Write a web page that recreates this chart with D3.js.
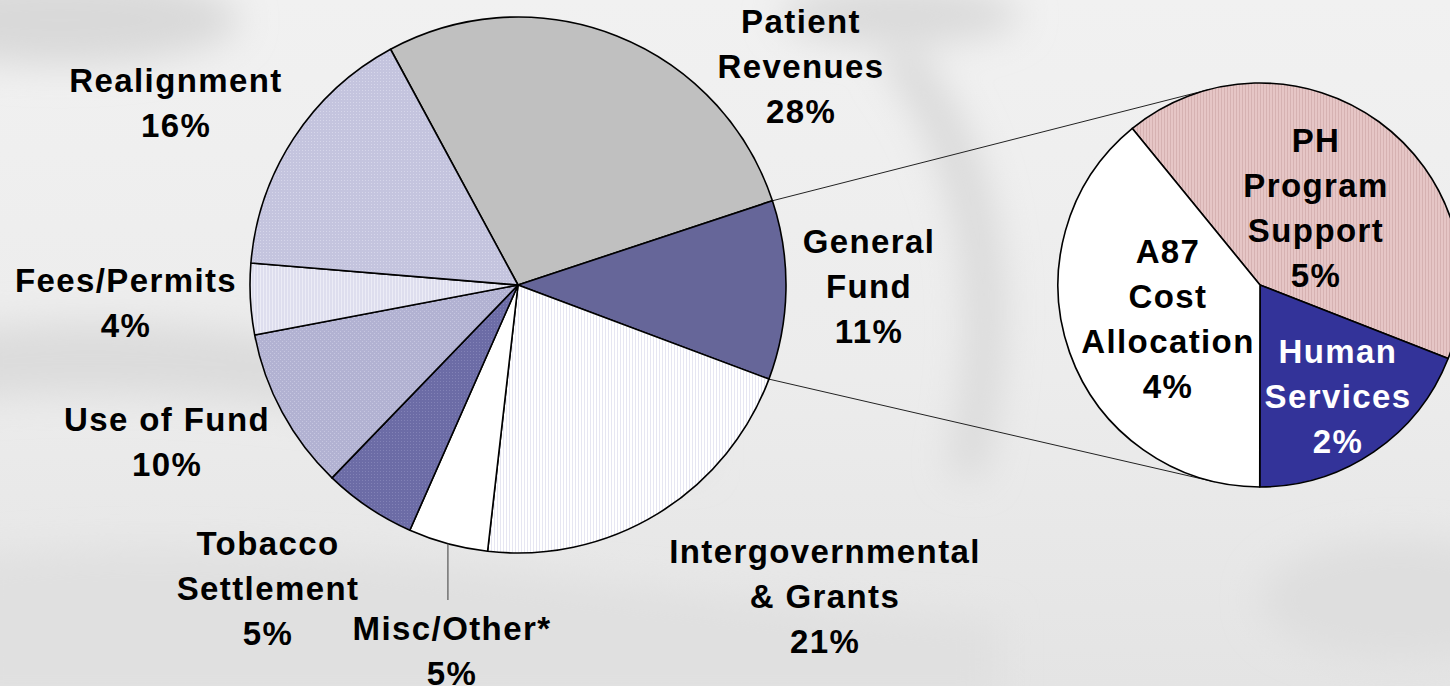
<!DOCTYPE html>
<html>
<head>
<meta charset="utf-8">
<script src="https://cdn.jsdelivr.net/npm/d3@7"></script>
<style>
  html, body { margin: 0; padding: 0; background: #efefef; overflow: hidden; }
  svg { display: block; }
  .lbl { font-family: "Liberation Sans", Arial, sans-serif; font-weight: bold; font-size: 33px; letter-spacing: 1.4px; }
</style>
</head>
<body>
<div class="svg-container"></div>
<script>
// main pie, clockwise from the top-left
var mainNames = ["Patient Revenues", "General Fund", "Intergovernmental & Grants", "Misc/Other*",
                 "Tobacco Settlement", "Use of Fund", "Fees/Permits", "Realignment"];
var mainValues = [27.8, 10.8, 21.1, 4.8, 5.6, 9.8, 4.3, 15.8];
var mainPct = ["28%", "11%", "21%", "5%", "5%", "10%", "4%", "16%"];

// breakdown of General Fund
var subNames = ["PH Program Support", "Human Services", "A87 Cost Allocation"];
var subValues = [4.6, 2.1, 4.3];
var subPct = ["5%", "2%", "4%"];

var W = 1450, H = 686;
var deg = Math.PI / 180;

// layout
var main = { cx: 518, cy: 285, r: 268, start: -28.4 };
var sub = { cx: 1260, cy: 285, r: 202, start: -39.2 };

var fills = {
  "Patient Revenues": "#c0c0c0",
  "General Fund": "#666699",
  "Intergovernmental & Grants": "url(#pIntergov)",
  "Misc/Other*": "#ffffff",
  "Tobacco Settlement": "url(#pTobacco)",
  "Use of Fund": "url(#pUse)",
  "Fees/Permits": "url(#pFees)",
  "Realignment": "url(#pRealign)",
  "PH Program Support": "url(#pPH)",
  "Human Services": "#333399",
  "A87 Cost Allocation": "#ffffff"
};

// label lines and anchors (centre x, first baseline y)
var labelLines = {
  "Patient Revenues": ["Patient", "Revenues"],
  "General Fund": ["General", "Fund"],
  "Intergovernmental & Grants": ["Intergovernmental", "& Grants"],
  "Misc/Other*": ["Misc/Other*"],
  "Tobacco Settlement": ["Tobacco", "Settlement"],
  "Use of Fund": ["Use of Fund"],
  "Fees/Permits": ["Fees/Permits"],
  "Realignment": ["Realignment"],
  "PH Program Support": ["PH", "Program", "Support"],
  "Human Services": ["Human", "Services"],
  "A87 Cost Allocation": ["A87", "Cost", "Allocation"]
};
var labelAt = {
  "Patient Revenues": [801, 33],
  "General Fund": [869, 253],
  "Intergovernmental & Grants": [825, 563],
  "Misc/Other*": [452, 640],
  "Tobacco Settlement": [268, 555],
  "Use of Fund": [167, 431],
  "Fees/Permits": [126, 292],
  "Realignment": [176, 92],
  "PH Program Support": [1316, 152],
  "Human Services": [1338, 363],
  "A87 Cost Allocation": [1168, 263]
};
var lineH = 45;

var svg = d3.select(".svg-container").append("svg")
  .attr("width", W).attr("height", H);

var defs = svg.append("defs");

// fine textures like the original print patterns
function pattern(id, base, dot, w, h, dots) {
  var p = defs.append("pattern").attr("id", id)
    .attr("patternUnits", "userSpaceOnUse").attr("width", w).attr("height", h);
  p.append("rect").attr("width", w).attr("height", h).attr("fill", base);
  dots.forEach(function(d) {
    p.append("rect").attr("x", d[0]).attr("y", d[1]).attr("width", d[2]).attr("height", d[3]).attr("fill", dot);
  });
}
pattern("pRealign", "#c4c4de", "#d6d6ea", 3, 3, [[0, 0, 1, 1]]);
pattern("pFees", "#dedeee", "#ececf6", 3, 3, [[0, 0, 1, 3]]);
pattern("pUse", "#b2b2d2", "#c6c6e0", 4, 4, [[0, 0, 1, 1], [2, 2, 1, 1]]);
pattern("pTobacco", "#6c6ca6", "#8282b6", 3, 3, [[0, 0, 1, 1]]);
pattern("pIntergov", "#ffffff", "#e6e6f2", 3, 3, [[0, 0, 1, 3]]);
pattern("pPH", "#e6c6c6", "#d6b2b2", 3, 3, [[0, 0, 1, 3]]);

// soft photographic backdrop
var blur = defs.append("filter").attr("id", "blur").attr("x", "-50%").attr("y", "-50%")
  .attr("width", "200%").attr("height", "200%");
blur.append("feGaussianBlur").attr("stdDeviation", 18);

var bgGrad = defs.append("linearGradient").attr("id", "bgGrad")
  .attr("x1", 0).attr("y1", 0).attr("x2", 0).attr("y2", 1);
bgGrad.append("stop").attr("offset", "0%").attr("stop-color", "#f1f1f1");
bgGrad.append("stop").attr("offset", "55%").attr("stop-color", "#ececec");
bgGrad.append("stop").attr("offset", "100%").attr("stop-color", "#e4e4e4");

var bg = svg.append("g");
bg.append("rect").attr("width", W).attr("height", H).attr("fill", "url(#bgGrad)");
var bgShapes = bg.append("g").attr("filter", "url(#blur)");
bgShapes.append("ellipse").attr("cx", 60).attr("cy", 20).attr("rx", 180).attr("ry", 45).attr("fill", "#d9d9d9");
bgShapes.append("path").attr("d", "M-40,330 C200,300 420,360 700,420 L700,470 C420,420 200,380 -40,400 Z").attr("fill", "#dcdcdc");
bgShapes.append("path").attr("d", "M-40,560 C300,520 600,600 1000,620 L1000,700 L-40,700 Z").attr("fill", "#e0e0e0");
bgShapes.append("path").attr("d", "M880,60 C960,160 990,300 950,470 L980,480 C1025,300 1000,150 915,50 Z").attr("fill", "#d8d8d8");
bgShapes.append("ellipse").attr("cx", 900).attr("cy", 15).attr("rx", 120).attr("ry", 30).attr("fill", "#dadada");
bgShapes.append("ellipse").attr("cx", 1400).attr("cy", 600).attr("rx", 140).attr("ry", 60).attr("fill", "#dedede");

// pies
var mainPie = d3.pie().sort(null).value(function(d) { return d.v; })
  .startAngle(main.start * deg).endAngle(main.start * deg + 2 * Math.PI);
var subPie = d3.pie().sort(null).value(function(d) { return d.v; })
  .startAngle(sub.start * deg).endAngle(sub.start * deg + 2 * Math.PI);

var mainArcs = mainPie(mainNames.map(function(n, i) { return { name: n, v: mainValues[i], pct: mainPct[i] }; }));
var subArcs = subPie(subNames.map(function(n, i) { return { name: n, v: subValues[i], pct: subPct[i] }; }));

var mainArc = d3.arc().innerRadius(0).outerRadius(main.r);
var subArc = d3.arc().innerRadius(0).outerRadius(sub.r);

function polar(c, a) {
  return [c.cx + c.r * Math.sin(a), c.cy - c.r * Math.cos(a)];
}

// connector lines: from the General Fund edges, tangent to the secondary pie
var gf = mainArcs[mainNames.indexOf("General Fund")];
var ends = [gf.startAngle, gf.endAngle].map(function(a) { return polar(main, a); });
function tangent(p, upper) {
  var dx = p[0] - sub.cx, dy = p[1] - sub.cy;
  var d = Math.sqrt(dx * dx + dy * dy);
  var base = Math.atan2(dx, -dy);
  var off = Math.acos(sub.r / d);
  return polar(sub, upper ? base + off : base - off);
}
var connectors = [[ends[0], tangent(ends[0], true)], [ends[1], tangent(ends[1], false)]];
svg.append("g").selectAll("line").data(connectors).join("line")
  .attr("x1", function(d) { return d[0][0]; }).attr("y1", function(d) { return d[0][1]; })
  .attr("x2", function(d) { return d[1][0]; }).attr("y2", function(d) { return d[1][1]; })
  .attr("stroke", "#222").attr("stroke-width", 1);

svg.append("g").attr("transform", "translate(" + main.cx + "," + main.cy + ")")
  .selectAll("path").data(mainArcs).join("path")
  .attr("d", mainArc)
  .attr("fill", function(d) { return fills[d.data.name]; })
  .attr("stroke", "#000").attr("stroke-width", 1.6).attr("stroke-linejoin", "round");

svg.append("g").attr("transform", "translate(" + sub.cx + "," + sub.cy + ")")
  .selectAll("path").data(subArcs).join("path")
  .attr("d", subArc)
  .attr("fill", function(d) { return fills[d.data.name]; })
  .attr("stroke", "#000").attr("stroke-width", 1.6).attr("stroke-linejoin", "round");

// leader for Misc/Other*
var misc = mainArcs[mainNames.indexOf("Misc/Other*")];
var mp = polar(main, (misc.startAngle + misc.endAngle) / 2);
svg.append("line")
  .attr("x1", mp[0]).attr("y1", mp[1]).attr("x2", mp[0]).attr("y2", 600)
  .attr("stroke", "#555").attr("stroke-width", 1.2);

// labels
function drawLabels(arcs) {
  arcs.forEach(function(a) {
    var n = a.data.name;
    var lines = labelLines[n].concat([a.data.pct]);
    var at = labelAt[n];
    var t = svg.append("text").attr("class", "lbl")
      .attr("text-anchor", "middle")
      .attr("fill", n === "Human Services" ? "#ffffff" : "#000000");
    lines.forEach(function(s, i) {
      t.append("tspan").attr("x", at[0]).attr("y", at[1] + i * lineH).text(s);
    });
  });
}
drawLabels(mainArcs);
drawLabels(subArcs);
</script>
</body>
</html>
